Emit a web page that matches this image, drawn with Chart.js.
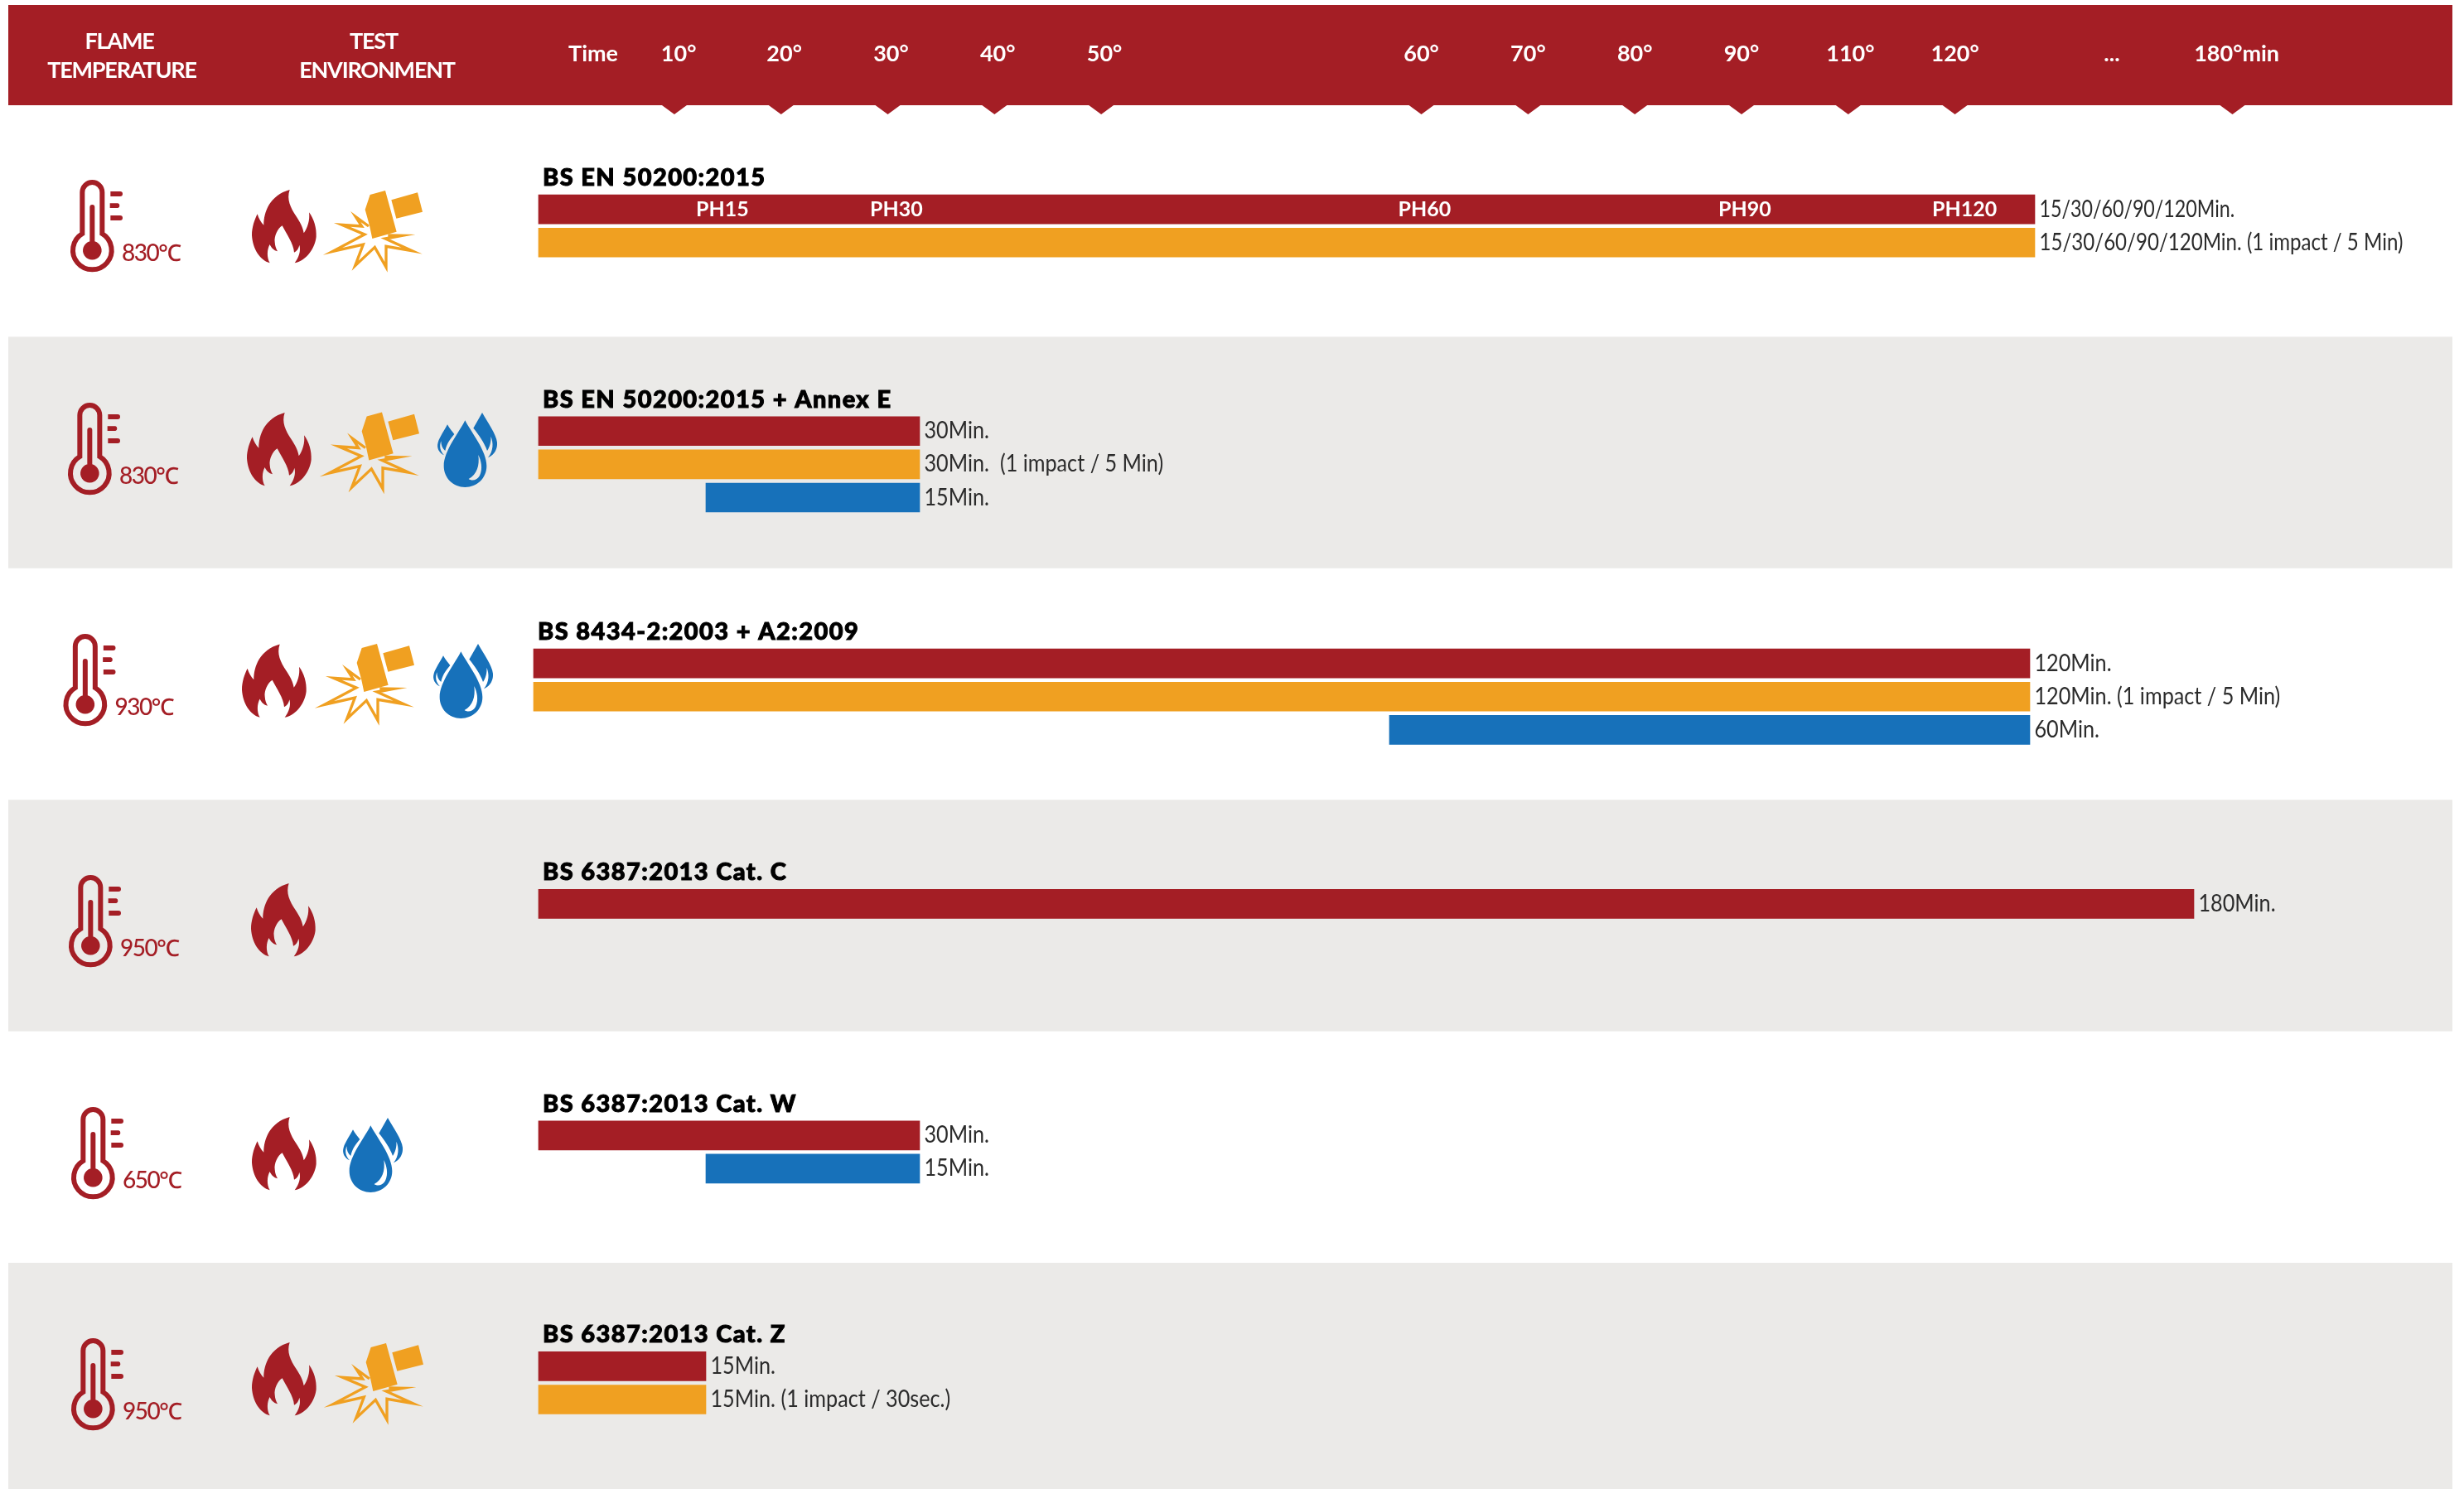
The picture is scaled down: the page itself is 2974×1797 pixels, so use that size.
<!DOCTYPE html>
<html>
<head>
<meta charset="utf-8">
<title>Fire test timeline</title>
<script src="https://cdn.jsdelivr.net/npm/chart.js@4"></script>
<style>
  html, body { margin: 0; padding: 0; background: #fff; }
  canvas { display: block; }
</style>
</head>
<body>
<canvas id="chart" width="2974" height="1797"></canvas>
<script>
// Data
const standards = ['BS EN 50200:2015', 'BS EN 50200:2015 + Annex E', 'BS 8434-2:2003 + A2:2009',
  'BS 6387:2013 Cat. C', 'BS 6387:2013 Cat. W', 'BS 6387:2013 Cat. Z'];
const temperatures = ['830℃', '830℃', '930℃', '950℃', '650℃', '950℃'];

const fireMinutes = [[0, 120], [0, 30], [0, 120], [0, 180], [0, 30], [0, 15]];
const impactMinutes = [[0, 120], [0, 30], [0, 120], null, null, [0, 15]];
const waterMinutes = [null, [15, 30], [60, 120], null, [15, 30], null];

const fireNotes = ['15/30/60/90/120Min.', '30Min.', '120Min.', '180Min.', '30Min.', '15Min.'];
const impactNotes = ['15/30/60/90/120Min. (1 impact / 5 Min)', '30Min.  (1 impact / 5 Min)',
  '120Min. (1 impact / 5 Min)', null, null, '15Min. (1 impact / 30sec.)'];
const waterNotes = [null, '15Min.', '60Min.', null, '15Min.', null];

const tickLabels = ['Time', '10°', '20°', '30°', '40°', '50°', '60°', '70°', '80°', '90°', '110°', '120°', '...', '180°min'];
const phLabels = ['PH15', 'PH30', 'PH60', 'PH90', 'PH120'];

// Layout, all of it calibration of the sheet
const RED = '#a41e25';
const ORANGE = '#f0a021';
const BLUE = '#1771ba';
const BAND = '#ebeae8';

const tickSlots = [0.2, 1, 1.99, 2.99, 3.99, 4.99, 7.96, 8.96, 9.96, 10.96, 11.98, 12.96, 14.43, 15.6];
const markerSlots = [0.96, 1.96, 2.96, 3.96, 4.96, 7.96, 8.96, 9.96, 10.96, 11.96, 12.96, 15.56];
const phSlots = [1.41, 3.04, 7.99, 10.99, 13.05];
const timelineStops = [0, 15, 30, 60, 120, 180];
const timelineOffsets = [650, 852, 1110, 1683, 2456, 2648];

const laneStart = [0.4497, 0.4076, 0.411, 0.45, 0.45, 0.447];
const lanePitch = 0.1435;
const shiftedRow = 2;

const thermLeft = [85, 82, 76.5, 83, 86, 86];
const thermTop = [217, 486, 765, 1056, 1336, 1615];
const flameLeft = [304, 298, 292, 303, 304, 304];
const flameTop = [229, 498, 777.5, 1066, 1348, 1620];
const sparkLeft = [395, 391, 385, 0, 0, 396];
const sparkTop = [230, 497.5, 777, 0, 0, 1621];
const dropLeft = [0, 528, 523, 0, 414, 0];
const dropTop = [0, 498, 777, 0, 1349, 0];

const FONT = 'Lato, "Noto Sans", sans-serif';

// Scale that follows the uneven spacing of the printed time line
class TimelineScale extends Chart.LinearScale {
  static id = 'timeline';
  static defaults = Chart.LinearScale.defaults;

  getPixelForValue(value) {
    const shift = this.options.shift || 0;
    let i = 1;
    while (i < timelineStops.length - 1 && value > timelineStops[i]) i++;
    const t = (value - timelineStops[i - 1]) / (timelineStops[i] - timelineStops[i - 1]);
    return this.left + shift + timelineOffsets[i - 1] + t * (timelineOffsets[i] - timelineOffsets[i - 1]);
  }
}
Chart.register(TimelineScale);

// Icons, traced at 3x and scaled down when drawn
const flamePath = new Path2D('M162 40 C150 75 165 105 185 135 C200 158 210 175 213 197 C226 180 236 150 232 122 C250 145 260 180 258 210 C254 250 225 295 180 305 C195 285 203 262 197 240 C195 252 188 262 178 267 C176 235 150 200 135 170 C118 180 105 210 108 230 C109 245 113 255 118 263 C105 260 95 250 90 238 C80 255 78 285 90 305 C55 295 28 255 25 205 C25 175 35 148 45 128 C50 145 58 158 68 168 C68 120 90 60 162 40 Z');
const hammerPath = new Path2D('M170 38 L225 23 L266 172 L178 197 L168 150 L152 92 Z M247 57 L342 30 L360 100 L265 124 Z');
const sparkPath = new Path2D('M165 152 L118 118 L140 152 L68 147 L150 182 L35 243 L145 218 L116 295 L187 228 L228 300 L228 225 L322 241 L225 197 L285 186 L235 185');
const dropPath = new Path2D('M142 50 C120 95 65 160 65 215 C65 260 100 292 142 292 C185 292 220 260 220 215 C220 160 165 95 142 50 Z M190 175 C195 215 185 245 155 262 C165 270 185 268 195 250 C207 225 200 195 190 175 Z');
const dropSidePath = new Path2D('M204 22 L172 78 C190 100 212 130 222 160 C232 145 237 125 235 108 C245 130 245 160 225 185 C250 175 260 150 258 130 C255 100 225 60 204 22 Z M78 65 C68 85 50 110 44 130 C38 150 48 168 66 176 C52 162 48 145 55 125 C55 140 60 152 70 160 C75 135 88 118 103 100 C95 90 85 78 78 65 Z');
const thermTubePath = new Path2D('M75 215 V65 A36 36 0 0 1 147 65 V215 A70 70 0 1 1 75 215 Z');
const thermFillPath = new Path2D('M102 275 V119 A9 9 0 0 1 120 119 V243 A34 34 0 1 1 102 243 Z M177 62 H212 A9 9 0 0 1 212 80 H177 Z M175 105 H204 A9 9 0 0 1 204 122 H175 Z M177 149 H212 A9 9 0 0 1 212 167 H177 Z');

function withIcon(ctx, left, top, originX, originY, draw) {
  ctx.save();
  ctx.translate(left - originX / 3, top - originY / 3);
  ctx.scale(1 / 3, 1 / 3);
  draw();
  ctx.restore();
}

function drawRowIcons(ctx, row) {
  withIcon(ctx, thermLeft[row], thermTop[row], 32, 20, () => {
    ctx.strokeStyle = RED;
    ctx.lineWidth = 18;
    ctx.stroke(thermTubePath);
    ctx.fillStyle = RED;
    ctx.fill(thermFillPath);
  });
  ctx.fillStyle = RED;
  ctx.font = '500 28px ' + FONT;
  ctx.letterSpacing = '-1.5px';
  ctx.textAlign = 'left';
  ctx.textBaseline = 'alphabetic';
  ctx.fillText(temperatures[row], thermLeft[row] + 62, thermTop[row] + 98);
  ctx.letterSpacing = '0px';

  withIcon(ctx, flameLeft[row], flameTop[row], 25, 40, () => {
    ctx.fillStyle = RED;
    ctx.fill(flamePath);
  });
  if (impactMinutes[row]) {
    withIcon(ctx, sparkLeft[row], sparkTop[row], 15, 23, () => {
      ctx.fillStyle = ORANGE;
      ctx.fill(hammerPath);
      ctx.strokeStyle = ORANGE;
      ctx.lineWidth = 10;
      ctx.miterLimit = 12;
      ctx.stroke(sparkPath);
    });
  }
  if (waterMinutes[row]) {
    withIcon(ctx, dropLeft[row], dropTop[row], 42, 22, () => {
      ctx.fillStyle = BLUE;
      ctx.fill(dropPath, 'evenodd');
      ctx.fill(dropSidePath);
    });
  }
}

const sheetPlugin = {
  id: 'sheet',
  beforeDraw(chart) {
    const { ctx, scales: { y } } = chart;
    ctx.save();
    // Alternate grey bands
    ctx.fillStyle = BAND;
    standards.forEach((_, row) => {
      if (row % 2 === 1) {
        const top = y.getPixelForValue(row);
        const bottom = Math.min(y.getPixelForValue(row + 1), chart.height);
        ctx.fillRect(10, top, 2950, bottom - top);
      }
    });
    // Header strip and its little pointers
    ctx.fillStyle = RED;
    ctx.fillRect(10, 6, 2950, chart.chartArea.top - 6);
    const header = chart.scales.header;
    markerSlots.forEach(slot => {
      const px = header.getPixelForValue(slot);
      ctx.beginPath();
      ctx.moveTo(px - 15, chart.chartArea.top);
      ctx.lineTo(px + 15, chart.chartArea.top);
      ctx.lineTo(px, chart.chartArea.top + 11);
      ctx.closePath();
      ctx.fill();
    });
    ctx.fillStyle = '#fff';
    ctx.font = '700 27px ' + FONT;
    ctx.letterSpacing = '-1.2px';
    ctx.textAlign = 'center';
    ctx.textBaseline = 'alphabetic';
    ctx.fillText('FLAME', 144, 59);
    ctx.fillText('TEMPERATURE', 147, 94);
    ctx.fillText('TEST', 451, 59);
    ctx.fillText('ENVIRONMENT', 455, 94);
    ctx.letterSpacing = '0px';
    ctx.restore();
  },
  afterDatasetsDraw(chart) {
    const { ctx } = chart;
    ctx.save();
    standards.forEach((_, row) => drawRowIcons(ctx, row));

    // Notes at the end of every bar, titles above the first bar of a row
    const titled = {};
    chart.data.datasets.forEach((dataset, d) => {
      chart.getDatasetMeta(d).data.forEach((bar, i) => {
        const row = dataset.rows[i];
        // The slash lists in the first row are set tighter than the rest
        const stretch = row === 0 ? (dataset.firstSeries ? 0.83 : 0.86) : 0.9;
        ctx.save();
        ctx.translate(bar.x + 5.5, bar.y);
        ctx.scale(stretch, 1);
        ctx.fillStyle = '#2b2b2b';
        ctx.font = '400 28px ' + FONT;
        ctx.textAlign = 'left';
        ctx.textBaseline = 'middle';
        ctx.fillText(dataset.notes[row], 0, 0);
        ctx.restore();
        if (dataset.firstSeries && !titled[row]) {
          titled[row] = true;
          const titleX = bar.base + 5;
          const titleY = bar.y - 17.5 - 11;
          ctx.fillStyle = '#000';
          ctx.strokeStyle = '#000';
          ctx.lineWidth = 1;
          ctx.font = '900 29px ' + FONT;
          ctx.letterSpacing = '1.4px';
          ctx.textAlign = 'left';
          ctx.textBaseline = 'alphabetic';
          ctx.fillText(standards[row], titleX, titleY);
          ctx.strokeText(standards[row], titleX, titleY);
          ctx.letterSpacing = '0px';
        }
      });
    });

    // Protection hour marks inside the first bar
    const firstBar = chart.getDatasetMeta(0).data[0];
    ctx.fillStyle = '#fff';
    ctx.font = '700 25px ' + FONT;
    ctx.textAlign = 'center';
    ctx.textBaseline = 'middle';
    phLabels.forEach((label, i) => {
      ctx.fillText(label, chart.scales.header.getPixelForValue(phSlots[i]), firstBar.y);
    });
    ctx.restore();
  }
};

function laneValue(row, lane) {
  return row + laneStart[row] + lane * lanePitch;
}

const seriesList = [
  { label: 'Fire', minutes: fireMinutes, notes: fireNotes, color: RED },
  { label: 'Impact', minutes: impactMinutes, notes: impactNotes, color: ORANGE },
  { label: 'Water', minutes: waterMinutes, notes: waterNotes, color: BLUE }
];

// Rows fill their lanes from the top, so the lane depends on what came before
const lanesUsed = standards.map(() => 0);
const datasets = [];
seriesList.forEach((series, s) => {
  const normal = { rows: [], data: [] };
  const shifted = { rows: [], data: [] };
  series.minutes.forEach((range, row) => {
    if (!range) return;
    const target = row === shiftedRow ? shifted : normal;
    target.rows.push(row);
    target.data.push({ x: range, y: laneValue(row, lanesUsed[row]++) });
  });
  [normal, shifted].forEach((part, p) => {
    datasets.push({
      label: series.label,
      data: part.data,
      rows: part.rows,
      notes: series.notes,
      firstSeries: s === 0,
      xAxisID: p === 0 ? 'x' : 'xShift',
      yAxisID: 'y',
      backgroundColor: series.color,
      borderWidth: 0,
      barThickness: 35,
      grouped: false
    });
  });
});

new Chart(document.getElementById('chart'), {
  type: 'bar',
  data: { datasets },
  plugins: [sheetPlugin],
  options: {
    indexAxis: 'y',
    responsive: false,
    animation: false,
    layout: { padding: 0 },
    plugins: { legend: { display: false }, tooltip: { enabled: false } },
    scales: {
      x: { type: 'timeline', axis: 'x', min: 0, max: 180, display: false },
      xShift: { type: 'timeline', axis: 'x', min: 0, max: 180, display: false, shift: -6 },
      header: {
        type: 'linear',
        axis: 'x',
        position: 'top',
        min: -5.359,
        max: 17.73,
        afterBuildTicks(scale) {
          scale.ticks = tickSlots.map(value => ({ value }));
        },
        afterFit(scale) {
          scale.height = 127;
        },
        border: { display: false },
        grid: { display: false, drawTicks: false, tickLength: 0 },
        ticks: {
          autoSkip: false,
          maxRotation: 0,
          padding: 46,
          color: '#fff',
          font: { family: FONT, size: 27, weight: '700' },
          callback: (value, index) => tickLabels[index]
        }
      },
      y: {
        type: 'linear',
        axis: 'y',
        reverse: true,
        offset: false,
        min: 0,
        max: 5.977,
        display: false
      }
    }
  }
});
</script>
</body>
</html>
